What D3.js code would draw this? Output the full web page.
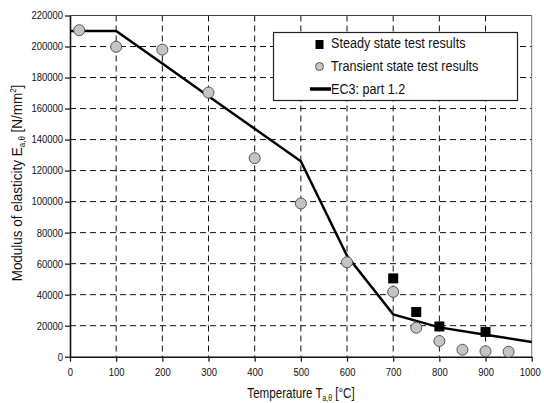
<!DOCTYPE html>
<html><head><meta charset="utf-8">
<script src="https://cdn.jsdelivr.net/npm/d3@7"></script>
<style>
body{margin:0;background:#fff;}
text{font-family:"Liberation Sans",Arial,sans-serif;fill:#111;}
</style></head>
<body><svg id="c" width="544" height="403"></svg>
<script>
const xTicks = [0,100,200,300,400,500,600,700,800,900,1000];
const yTicks = [0,20000,40000,60000,80000,100000,120000,140000,160000,180000,200000,220000];
const steadyT = [700,750,800,900];
const steadyE = [50500,28800,19500,16000];
const transT = [20,100,200,300,400,500,600,700,750,800,850,900,950];
const transE = [210500,199800,198000,170300,128000,98800,60900,41800,18700,10100,4500,3500,3200];
const ec3T = [0,100,200,300,400,500,600,700,800,900,1000];
const ec3E = [210000,210000,189000,168000,147000,126000,65100,27300,18900,14175,9450];
const legendLabels = ["Steady state test results","Transient state test results","EC3: part 1.2"];

function squeeze(sel, f){
  sel.each(function(){
    const w = this.getComputedTextLength();
    d3.select(this).attr("textLength", w*f).attr("lengthAdjust","spacingAndGlyphs");
  });
}

const svg = d3.select("#c");
const L=70, R=531.7, T=15.5, B=356.7;
const x = d3.scaleLinear().domain([0,1000]).range([L,R]);
const y = d3.scaleLinear().domain([0,220000]).range([B,T]);

// grid
const g = svg.append("g");
g.selectAll(".vg").data(xTicks.filter(d=>d>0&&d<1000)).enter().append("line")
 .attr("x1",d=>x(d)).attr("x2",d=>x(d)).attr("y1",T).attr("y2",B)
 .attr("stroke","#111").attr("stroke-width",1).attr("stroke-dasharray","6,4");
g.selectAll(".hg").data(yTicks.filter(d=>d>0&&d<220000)).enter().append("line")
 .attr("x1",L).attr("x2",R).attr("y1",d=>y(d)).attr("y2",d=>y(d))
 .attr("stroke","#111").attr("stroke-width",1).attr("stroke-dasharray","6,4");

// frame
svg.append("line").attr("x1",L).attr("x2",R).attr("y1",T).attr("y2",T).attr("stroke","#444").attr("stroke-width",1);
svg.append("line").attr("x1",R).attr("x2",R).attr("y1",T).attr("y2",B).attr("stroke","#777").attr("stroke-width",1);

// axes
const xa = svg.append("g").attr("transform",`translate(0,${B})`)
 .call(d3.axisBottom(x).tickValues(xTicks).tickSize(5).tickSizeOuter(0).tickPadding(7).tickFormat(d3.format("d")));
const ya = svg.append("g").attr("transform",`translate(${L},0)`)
 .call(d3.axisLeft(y).tickValues(yTicks).tickSize(5).tickSizeOuter(0).tickPadding(2).tickFormat(d3.format("d")));
[xa,ya].forEach(a=>{
  a.select(".domain").attr("stroke","#111").attr("stroke-width",1.6);
  a.selectAll(".tick line").attr("stroke","#111").attr("stroke-width",1.2);
  a.selectAll("text").attr("font-size",10.5).attr("fill","#111")
   .attr("font-family",'"Liberation Sans",Arial,sans-serif');
  squeeze(a.selectAll("text"),0.9);
});
xa.selectAll(".tick").filter(d=>d===1000).select("text").attr("x",-2);

// EC3 line
svg.append("path").datum(ec3T.map((t,i)=>[t,ec3E[i]]))
 .attr("d",d3.line().x(d=>x(d[0])).y(d=>y(d[1])))
 .attr("fill","none").attr("stroke","#000").attr("stroke-width",2.5).attr("stroke-linejoin","miter");

// transient circles
svg.selectAll(".tc").data(transT.map((t,i)=>[t,transE[i]])).enter().append("circle")
 .attr("cx",d=>x(d[0])).attr("cy",d=>y(d[1])).attr("r",5.5)
 .attr("fill","#c4c4c4").attr("stroke","#555").attr("stroke-width",1);

// steady squares
svg.selectAll(".ss").data(steadyT.map((t,i)=>[t,steadyE[i]])).enter().append("rect")
 .attr("x",d=>x(d[0])-5).attr("y",d=>y(d[1])-5).attr("width",10).attr("height",10)
 .attr("fill","#000");

// legend
const lg = svg.append("g");
lg.append("rect").attr("x",273.5).attr("y",32.5).attr("width",244).attr("height",68)
 .attr("fill","#fff").attr("stroke","#222").attr("stroke-width",1.2);
lg.append("rect").attr("x",315.5).attr("y",40).attr("width",8).attr("height",9).attr("fill","#000");
lg.append("circle").attr("cx",319.5).attr("cy",66.5).attr("r",4).attr("fill","#c4c4c4").attr("stroke","#555");
lg.append("line").attr("x1",310).attr("x2",331).attr("y1",89).attr("y2",89).attr("stroke","#000").attr("stroke-width",3.5);
const lt = lg.selectAll(".lt").data(legendLabels).enter().append("text")
 .attr("x",331).attr("y",(d,i)=>[48,71,94][i]).attr("font-size",14).text(d=>d);
squeeze(lt,0.9);

// axis titles
const xt = svg.append("text").attr("transform","translate(301,398) scale(0.8,1)").attr("text-anchor","middle").attr("font-size",14.5);
xt.append("tspan").text("Temperature T");
xt.append("tspan").attr("font-size",8.5).attr("dy",3).text("a,θ");
xt.append("tspan").attr("dy",-3).text(" [°C]");

const yt = svg.append("text").attr("transform","translate(22,183) rotate(-90) scale(0.93,1)").attr("text-anchor","middle").attr("font-size",14.5);
yt.append("tspan").text("Modulus of elasticity E");
yt.append("tspan").attr("font-size",8.5).attr("dy",3).text("a,θ");
yt.append("tspan").attr("dy",-3).text(" [N/mm");
yt.append("tspan").attr("font-size",8.5).attr("dy",-6).text("2");
yt.append("tspan").attr("dy",6).text("]");
</script></body></html>
